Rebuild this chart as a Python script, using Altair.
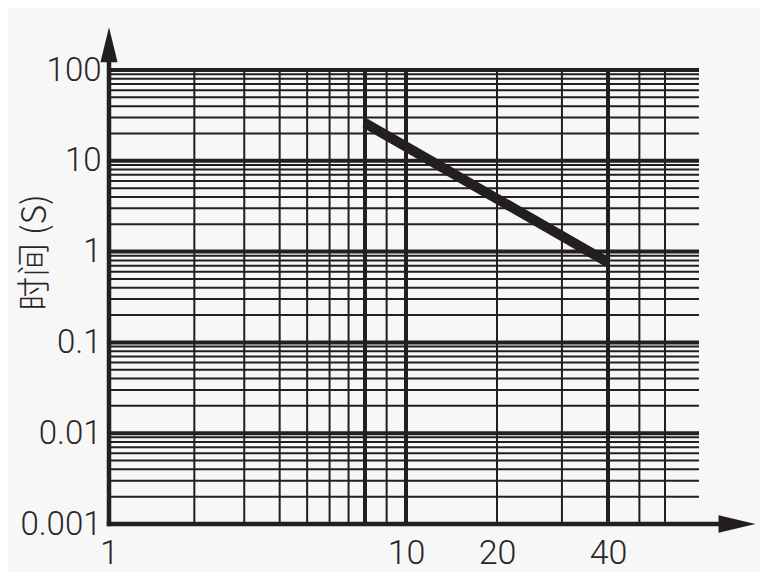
import altair as alt
import pandas as pd

# ---- data ----
x_minor = [2, 3, 4, 5, 6, 7, 9, 20, 30, 50, 60]
x_major = [8, 10, 40]
y_major = [0.001, 0.01, 0.1, 1, 10, 100]
y_minor = [m * d for d in [0.001, 0.01, 0.1, 1, 10] for m in range(2, 10)]
curve_x = [8, 40]
curve_y = [26, 0.76]
x_labels = [1, 10, 20, 40]
y_labels = [0.001, 0.01, 0.1, 1, 10, 100]

X_END = 76
Y_MIN, Y_MAX = 0.001, 100
Y_ARROW = 190
X_ARROW = 99

INK = "#231f20"
TXT = "#2a2627"
BG = "#f7f7f7"
FONT = "Roboto, Liberation Sans, sans-serif"

# irregular (hand-drawn) log paper: piecewise log scale
xs = alt.Scale(type="log", domain=[1, 8, 10, 20, 40, 60, X_END],
               range=[0, 256, 297, 388, 499, 556, 590], nice=False, zero=False)
ys = alt.Scale(type="log", domain=[Y_MIN, Y_MAX], nice=False, zero=False)

xaxis = alt.Axis(values=x_labels, format="~g", title=None, domain=False, ticks=False,
                 grid=False, labelFont=FONT, labelFontSize=34, labelFontWeight=300,
                 labelColor=TXT, labelPadding=12, labelFlush=False, labelOverlap=False)
yaxis = alt.Axis(values=y_labels, format="~g", title="时间 (S)", domain=False, ticks=False,
                 grid=False, labelFont=FONT, labelFontSize=33, labelFontWeight=300,
                 labelColor=TXT, labelPadding=8, labelFlush=False, labelOverlap=False,
                 titleFont="Noto Sans CJK SC", titleFontSize=34, titleFontWeight=300,
                 titleColor=TXT, titleAngle=270, titleX=-74, titleY=182,
                 titleAlign="center", titleBaseline="middle")

vmin = pd.DataFrame({"x": x_minor, "y0": Y_MIN, "y1": Y_MAX})
vmaj = pd.DataFrame({"x": x_major, "y0": Y_MIN, "y1": Y_MAX})
hmin = pd.DataFrame({"y": y_minor, "x0": 1, "x1": X_END})
hmaj = pd.DataFrame({"y": y_major, "x0": 1, "x1": X_END})
curve = pd.DataFrame({"x": curve_x, "y": curve_y})
yline = pd.DataFrame({"x": [1], "y0": [Y_MIN], "y1": [Y_ARROW]})
xline = pd.DataFrame({"y": [Y_MIN], "x0": [1], "x1": [X_ARROW]})
yarrow = pd.DataFrame({"x": [1], "y": [Y_ARROW]})
xarrow = pd.DataFrame({"x": [X_ARROW], "y": [Y_MIN]})


def vrules(df, w):
    return alt.Chart(df).mark_rule(color=INK, strokeWidth=w).encode(
        x=alt.X("x:Q", scale=xs, axis=xaxis),
        y=alt.Y("y0:Q", scale=ys, axis=yaxis),
        y2="y1:Q")


def hrules(df, w):
    return alt.Chart(df).mark_rule(color=INK, strokeWidth=w).encode(
        y=alt.Y("y:Q", scale=ys, axis=yaxis),
        x=alt.X("x0:Q", scale=xs, axis=xaxis),
        x2="x1:Q")


line = alt.Chart(curve).mark_line(color=INK, strokeWidth=10, strokeCap="butt").encode(
    x=alt.X("x:Q", scale=xs, axis=xaxis),
    y=alt.Y("y:Q", scale=ys, axis=yaxis))

axis_y = alt.Chart(yline).mark_rule(color=INK, strokeWidth=4.5, strokeCap="square").encode(
    x=alt.X("x:Q", scale=xs, axis=xaxis),
    y=alt.Y("y0:Q", scale=ys, axis=yaxis), y2="y1:Q")
axis_x = alt.Chart(xline).mark_rule(color=INK, strokeWidth=4.5, strokeCap="square").encode(
    y=alt.Y("y:Q", scale=ys, axis=yaxis),
    x=alt.X("x0:Q", scale=xs, axis=xaxis), x2="x1:Q")

up = alt.Chart(yarrow).mark_point(shape="M0,-1L0.49,1L-0.49,1Z", filled=True, size=1225,
                                  color=INK, opacity=1).encode(
    x=alt.X("x:Q", scale=xs, axis=xaxis), y=alt.Y("y:Q", scale=ys, axis=yaxis))
right = alt.Chart(xarrow).mark_point(shape="M1,0L-1,-0.47L-1,0.47Z", filled=True, size=1369,
                                     color=INK, opacity=1).encode(
    x=alt.X("x:Q", scale=xs, axis=xaxis), y=alt.Y("y:Q", scale=ys, axis=yaxis))

chart = alt.layer(
    vrules(vmin, 2), hrules(hmin, 2), vrules(vmaj, 4), hrules(hmaj, 4),
    line, axis_y, axis_x, up, right
).properties(
    width=590, height=454,
    autosize=alt.AutoSizeParams(type="none"),
    padding={"left": 101, "top": 62, "right": 61, "bottom": 48},
    background=BG,
).configure_view(strokeWidth=0)

chart.save("out.html", embed_options={"renderer": "svg", "actions": False})
